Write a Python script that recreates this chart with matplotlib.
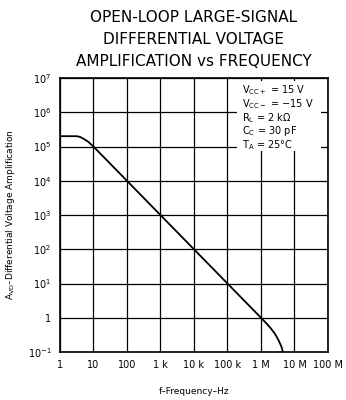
import numpy as np
import matplotlib
matplotlib.use("Agg")
import matplotlib.pyplot as plt
from matplotlib.patches import Rectangle

# curve
freq = [1, 2, 3, 3.5, 4, 5, 7, 10, 100, 1e3, 1e4, 1e5, 1e6, 1.5e6, 2e6, 2.5e6, 3e6, 3.5e6, 4e6, 4.3e6, 4.5e6]
gain = [2e5, 2e5, 2e5, 1.97e5, 1.9e5, 1.7e5, 1.38e5, 1e5, 1e4, 1e3, 1e2, 1e1, 1.0, 0.66, 0.48, 0.36, 0.27, 0.2, 0.15, 0.12, 0.1]

xticks = [1, 10, 100, 1e3, 1e4, 1e5, 1e6, 1e7, 1e8]
xlabels = ["1", "10", "100", "1 k", "10 k", "100 k", "1 M", "10 M", "100 M"]
yticks = [1e-1, 1, 1e1, 1e2, 1e3, 1e4, 1e5, 1e6, 1e7]
ylabels = [r"$10^{-1}$", "1", r"$10^1$", r"$10^2$", r"$10^3$", r"$10^4$", r"$10^5$", r"$10^6$", r"$10^7$"]

conditions = [r"$\mathrm{V_{CC+}}$ = 15 V", r"$\mathrm{V_{CC-}}$ = $-$15 V", r"$\mathrm{R_L}$ = 2 k$\Omega$",
              r"$\mathrm{C_C}$ = 30 pF", r"$\mathrm{T_A}$ = 25" + "\u00b0C"]

fig = plt.figure(figsize=(3.46, 4.0), dpi=100)
ax = fig.add_axes([0.173, 0.12, 0.775, 0.685])

ax.set_xscale("log")
ax.set_yscale("log")
ax.set_xlim(1, 1e8)
ax.set_ylim(1e-1, 1e7)
ax.plot(freq, gain, color="black", lw=1.3, zorder=3)

ax.set_xticks(xticks)
ax.set_xticklabels(xlabels, fontsize=7)
ax.set_yticks(yticks)
ax.set_yticklabels(ylabels, fontsize=7)
ax.minorticks_off()
ax.tick_params(length=0, pad=6)
ax.grid(True, color="black", lw=0.9)
for s in ax.spines.values():
    s.set_linewidth(1.2)

# conditions box covers the grid
ax.add_patch(Rectangle((0.66, 0.735), 0.315, 0.255, transform=ax.transAxes,
                       facecolor="white", edgecolor="none", zorder=2))
for i, t in enumerate(conditions):
    ax.text(0.68, 0.955 - i * 0.05, t, transform=ax.transAxes, fontsize=7,
            va="center", ha="left", zorder=4)

ax.set_xlabel("f\u2013Frequency\u2013Hz", fontsize=6.5, labelpad=12)
ax.set_ylabel(r"$\mathrm{A_{VD}}$" + "\u2013Differential Voltage Amplification", fontsize=6.5, labelpad=8)

fig.text(0.56, 0.955, "OPEN-LOOP LARGE-SIGNAL", ha="center", va="center", fontsize=11)
fig.text(0.56, 0.90, "DIFFERENTIAL VOLTAGE", ha="center", va="center", fontsize=11)
fig.text(0.56, 0.845, "AMPLIFICATION vs FREQUENCY", ha="center", va="center", fontsize=11)

fig.savefig("out.png", dpi=100)
